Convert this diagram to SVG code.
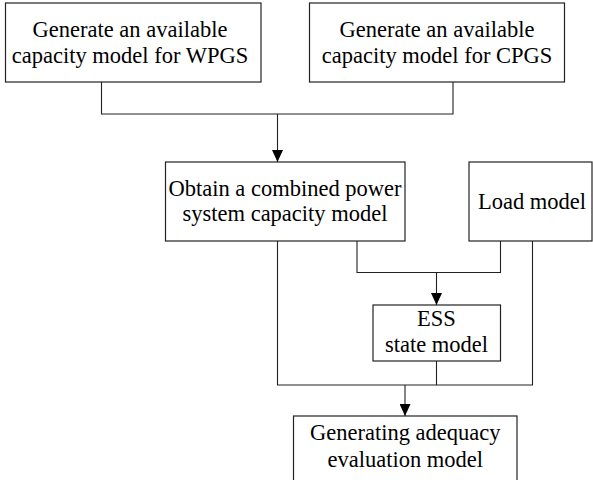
<svg xmlns="http://www.w3.org/2000/svg" width="593" height="480" viewBox="0 0 593 480">
<style>
.box{fill:#fff;stroke:#222;stroke-width:1.2}
.t{font-family:"Liberation Serif","Times New Roman",serif;font-size:22.5px;fill:#000;text-anchor:middle}
.c{fill:none;stroke:#222;stroke-width:1.1}
</style>
<defs>
<marker id="ah" markerUnits="userSpaceOnUse" markerWidth="12" markerHeight="11" refX="12" refY="5.5" orient="auto">
<path d="M0,0 L12,5.5 L0,11 z" fill="#000"/>
</marker>
</defs>
<rect width="593" height="480" fill="#fff"/>
<g id="connectors">
<path class="c" d="M101.5,82 V114 H453 V82"/>
<path class="c" d="M277.5,114 V162" marker-end="url(#ah)"/>
<path class="c" d="M277.5,241 V385 H532.5 V241"/>
<path class="c" d="M357,241 V272.5 H500.5 V241"/>
<path class="c" d="M436.5,272.5 V305" marker-end="url(#ah)"/>
<path class="c" d="M436.5,361 V385"/>
<path class="c" d="M405,385 V416" marker-end="url(#ah)"/>
</g>
<g id="wpgs">
<rect class="box" x="5.5" y="3" width="255.5" height="79"/>
<text class="t" x="130" y="37">Generate an available</text>
<text class="t" x="130" y="63">capacity model for WPGS</text>
</g>
<g id="cpgs">
<rect class="box" x="309.5" y="3" width="255" height="79"/>
<text class="t" x="437" y="37">Generate an available</text>
<text class="t" x="437" y="63">capacity model for CPGS</text>
</g>
<g id="combined">
<rect class="box" x="165.5" y="162" width="239.5" height="79"/>
<text class="t" x="285" y="196">Obtain a combined power</text>
<text class="t" x="285" y="221">system capacity model</text>
</g>
<g id="load">
<rect class="box" x="469" y="162" width="123" height="79"/>
<text class="t" x="532" y="208.5">Load model</text>
</g>
<g id="ess">
<rect class="box" x="373" y="305" width="127.5" height="56"/>
<text class="t" x="436.5" y="326">ESS</text>
<text class="t" x="436.5" y="351.5">state model</text>
</g>
<g id="adequacy">
<rect class="box" x="293.5" y="416" width="223.5" height="80"/>
<text class="t" x="405.3" y="439.5">Generating adequacy</text>
<text class="t" x="405.3" y="466.5">evaluation model</text>
</g>
</svg>
